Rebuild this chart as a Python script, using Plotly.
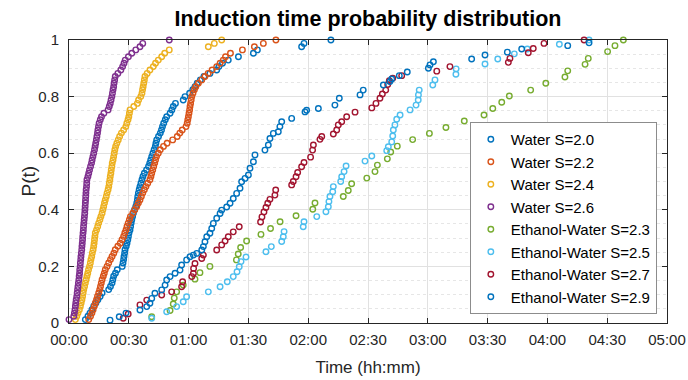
import plotly.graph_objects as go

# ---------------- data (time in minutes, probability P(t)) ----------------
P_WATER = [0.012, 0.024, 0.035, 0.047, 0.059, 0.071, 0.082, 0.094, 0.106, 0.118,
           0.129, 0.141, 0.153, 0.165, 0.176, 0.188, 0.200, 0.212, 0.224, 0.235,
           0.247, 0.259, 0.271, 0.282, 0.294, 0.306, 0.318, 0.329, 0.341, 0.353,
           0.365, 0.376, 0.388, 0.400, 0.412, 0.424, 0.435, 0.447, 0.459, 0.471,
           0.482, 0.494, 0.506, 0.518, 0.529, 0.541, 0.553, 0.565, 0.576, 0.588,
           0.600, 0.612, 0.624, 0.635, 0.647, 0.659, 0.671, 0.682, 0.694, 0.706,
           0.718, 0.729, 0.741, 0.753, 0.765, 0.776, 0.788, 0.800, 0.812, 0.824,
           0.835, 0.847, 0.859, 0.871, 0.882, 0.894, 0.906, 0.918, 0.929, 0.941,
           0.953, 0.965, 0.976, 0.988, 1.000]

T_W20 = [8.2, 9.5, 10.5, 11.5, 12.4, 13.5, 14.5, 15.6, 16.6, 19.9,
         20.8, 21.6, 22.0, 22.4, 23.3, 24.2, 26.7, 27.1, 27.4, 27.6,
         27.9, 28.1, 28.7, 29.1, 29.5, 29.8, 30.1, 30.6, 30.9, 31.2,
         31.5, 31.9, 32.3, 32.9, 33.5, 34.0, 34.3, 34.5, 34.8, 35.2,
         35.6, 36.1, 36.6, 37.1, 37.8, 38.9, 39.9, 40.5, 41.0, 41.5,
         42.1, 42.7, 43.3, 43.6, 44.0, 44.9, 45.8, 46.4, 46.9, 47.5,
         48.3, 49.0, 50.7, 51.6, 52.3, 53.4, 57.3, 58.2, 60.5, 62.1,
         63.2, 64.3, 65.9, 67.7, 70.7, 74.1, 75.2, 77.0, 79.9, 85.0,
         92.5, 94.5, 116.7, 117.9, 131.4]

T_W22 = [9.9, 10.8, 11.5, 12.1, 12.7, 13.2, 13.8, 14.3, 14.9, 15.4,
         15.8, 16.2, 16.6, 17.2, 17.7, 18.2, 19.1, 19.9, 20.8, 21.6,
         22.5, 23.2, 24.5, 25.7, 26.6, 27.4, 28.0, 28.6, 29.1, 29.7,
         30.3, 30.8, 32.0, 33.0, 34.0, 34.8, 35.6, 36.3, 37.0, 37.8,
         38.6, 39.5, 40.6, 41.1, 41.5, 42.0, 42.5, 43.0, 43.4, 43.9,
         44.8, 45.8, 47.4, 49.2, 52.0, 54.3, 55.6, 56.8, 58.7, 59.3,
         59.6, 59.9, 60.2, 60.5, 60.7, 61.0, 61.3, 61.6, 62.2, 62.9,
         63.6, 64.9, 66.6, 68.2, 69.8, 71.8, 74.1, 75.8, 77.4, 78.5,
         81.0, 87.0, 93.0, 97.5, 103.8]

T_W24 = [3.2, 3.9, 4.5, 5.2, 5.7, 6.1, 6.5, 6.8, 7.1, 7.4,
         7.8, 8.2, 8.6, 9.0, 9.4, 9.8, 10.3, 10.7, 11.0, 11.4,
         11.7, 12.1, 12.4, 12.6, 12.8, 13.0, 13.2, 13.8, 14.4, 14.9,
         15.5, 16.0, 16.6, 17.0, 17.4, 17.8, 18.2, 18.7, 19.1, 19.6,
         19.95, 20.2, 20.5, 20.7, 21.0, 21.2, 21.5, 21.7, 22.1, 22.4,
         22.7, 23.0, 23.4, 24.0, 24.7, 25.4, 26.3, 27.4, 28.5, 29.0,
         29.6, 30.0, 30.3, 30.6, 32.5, 34.3, 34.9, 36.0, 36.6, 36.9,
         37.2, 37.5, 37.8, 38.1, 39.2, 40.6, 42.3, 43.4, 44.8, 46.5,
         48.0, 50.3, 69.9, 72.9, 76.6]

T_W26 = [0.0, 2.4, 2.7, 3.0, 3.2, 3.4, 3.6, 3.9, 4.1, 4.3,
         4.5, 4.7, 4.95, 5.1, 5.3, 5.4, 5.6, 5.7, 5.9, 6.0,
         6.2, 6.4, 6.5, 6.65, 6.8, 6.9, 7.05, 7.2, 7.3, 7.45,
         7.6, 7.75, 7.9, 8.0, 8.1, 8.2, 8.3, 8.4, 8.5, 8.6,
         8.8, 8.9, 9.0, 9.5, 9.9, 10.3, 10.8, 11.3, 11.6, 12.0,
         12.4, 12.8, 13.1, 13.4, 13.7, 14.0, 14.3, 14.5, 14.8, 15.1,
         15.7, 16.3, 17.5, 19.6, 20.2, 20.7, 21.1, 21.5, 21.8, 22.1,
         22.4, 22.6, 22.9, 23.2, 24.5, 26.0, 26.9, 27.6, 28.2, 29.8,
         31.5, 33.5, 35.6, 37.0, 50.3]

T_EW23 = [41.5, 50.7, 52.3, 52.8, 54.0, 57.3, 63.2, 65.7, 70.7, 84.0,
          84.9, 86.1, 89.1, 96.3, 101.1, 105.9, 113.9, 122.3, 123.4, 137.6,
          140.1, 141.8, 149.4, 153.5, 154.7, 159.7, 161.4, 164.7, 172.4, 180.8,
          189.1, 198.3, 208.2, 212.6, 217.1, 220.9, 231.6, 239.2, 248.8, 250.2,
          258.9, 260.5, 270.2, 273.9, 278.1]
P_EW23 = [0.022, 0.044, 0.067, 0.088, 0.110, 0.134, 0.155, 0.178, 0.200, 0.223,
          0.244, 0.267, 0.290, 0.313, 0.334, 0.358, 0.379, 0.402, 0.424, 0.447,
          0.468, 0.492, 0.512, 0.535, 0.558, 0.580, 0.604, 0.625, 0.648, 0.670,
          0.691, 0.714, 0.735, 0.758, 0.780, 0.802, 0.823, 0.847, 0.869, 0.891,
          0.914, 0.935, 0.959, 0.980, 1.000]

T_EW25 = [41.5, 49.0, 54.0, 57.3, 59.0, 69.9, 75.8, 79.4, 82.4, 84.3,
          85.4, 86.3, 88.8, 98.8, 101.5, 106.7, 107.5, 107.9, 117.5, 117.9,
          124.3, 128.9, 130.1, 130.4, 130.9, 132.3, 132.6, 136.3, 136.8, 138.0,
          139.0, 148.5, 151.9, 159.4, 160.2, 161.9, 162.4, 162.7, 163.5, 164.4,
          166.1, 171.1, 174.1, 175.2, 175.3, 175.7, 182.5, 183.6, 194.1, 194.2,
          208.7, 215.1, 223.4, 229.9, 246.0, 260.9]
P_EW25 = [0.017, 0.040, 0.058, 0.075, 0.093, 0.110, 0.128, 0.146, 0.164, 0.181,
          0.199, 0.217, 0.233, 0.252, 0.270, 0.288, 0.305, 0.323, 0.340, 0.358,
          0.376, 0.393, 0.411, 0.429, 0.447, 0.464, 0.482, 0.500, 0.517, 0.535,
          0.555, 0.572, 0.590, 0.609, 0.623, 0.640, 0.661, 0.682, 0.700, 0.720,
          0.735, 0.753, 0.770, 0.788, 0.806, 0.823, 0.841, 0.859, 0.879, 0.898,
          0.915, 0.933, 0.951, 0.968, 0.985, 1.000]

T_EW27 = [27.2, 29.7, 35.6, 39.0, 46.5, 51.5, 56.5, 57.0, 61.6, 62.4,
          62.5, 63.2, 66.6, 67.4, 74.1, 76.6, 78.3, 79.9, 82.4, 85.4,
          96.1, 96.8, 97.8, 98.8, 99.7, 100.8, 103.3, 103.7, 111.7, 112.5,
          113.9, 114.7, 116.7, 117.9, 121.2, 122.2, 122.6, 125.9, 126.8, 132.6,
          134.3, 135.1, 136.8, 139.3, 143.5, 151.9, 154.0, 156.0, 157.2, 158.9,
          159.9, 160.7, 162.4, 166.9, 184.5, 191.1, 220.4, 221.2, 230.4, 232.9,
          238.3, 258.4]
P_EW27 = [0.017, 0.032, 0.064, 0.081, 0.099, 0.110, 0.128, 0.146, 0.164, 0.175,
          0.193, 0.210, 0.228, 0.240, 0.258, 0.276, 0.290, 0.305, 0.322, 0.340,
          0.357, 0.375, 0.392, 0.408, 0.423, 0.437, 0.452, 0.470, 0.488, 0.500,
          0.517, 0.532, 0.552, 0.567, 0.586, 0.611, 0.629, 0.649, 0.659, 0.668,
          0.682, 0.700, 0.711, 0.729, 0.745, 0.760, 0.776, 0.794, 0.809, 0.823,
          0.843, 0.856, 0.865, 0.874, 0.890, 0.906, 0.921, 0.935, 0.955, 0.970,
          0.988, 1.000]

T_EW29 = [20.6, 25.2, 28.6, 35.6, 39.0, 40.6, 41.5, 43.1, 46.5, 48.2,
          49.0, 50.7, 53.2, 55.7, 56.5, 59.0, 60.7, 62.4, 64.1, 66.6,
          67.4, 68.2, 69.1, 70.7, 71.6, 72.4, 74.1, 75.8, 76.6, 79.1,
          80.8, 82.4, 84.1, 85.8, 86.6, 88.3, 90.0, 90.8, 92.5, 93.3,
          98.3, 100.0, 100.8, 102.5, 105.0, 105.8, 106.7, 111.7, 118.4, 119.2,
          125.1, 133.4, 135.6, 146.0, 147.6, 157.7, 161.0, 161.9, 165.7, 169.7,
          180.3, 181.1, 182.8, 202.0, 208.7, 219.9, 227.1, 250.2, 260.9]
P_EW29 = [0.010, 0.022, 0.035, 0.046, 0.058, 0.070, 0.087, 0.105, 0.117, 0.134,
          0.152, 0.164, 0.176, 0.187, 0.205, 0.223, 0.234, 0.240, 0.246, 0.258,
          0.270, 0.287, 0.305, 0.317, 0.334, 0.352, 0.370, 0.387, 0.399, 0.410,
          0.423, 0.440, 0.458, 0.476, 0.499, 0.511, 0.523, 0.547, 0.570, 0.594,
          0.611, 0.629, 0.652, 0.670, 0.676, 0.694, 0.711, 0.723, 0.746, 0.752,
          0.758, 0.770, 0.794, 0.806, 0.823, 0.841, 0.853, 0.862, 0.874, 0.887,
          0.900, 0.912, 0.923, 0.933, 0.947, 0.957, 0.968, 0.980, 0.990]

SERIES_NAMES = ["Water S=2.0", "Water S=2.2", "Water S=2.4", "Water S=2.6",
                "Ethanol-Water S=2.3", "Ethanol-Water S=2.5",
                "Ethanol-Water S=2.7", "Ethanol-Water S=2.9"]
SERIES_T = [T_W20, T_W22, T_W24, T_W26, T_EW23, T_EW25, T_EW27, T_EW29]
SERIES_P = [P_WATER, P_WATER, P_WATER, P_WATER, P_EW23, P_EW25, P_EW27, P_EW29]
COLORS = ["#0072BD", "#D95319", "#EDB120", "#7E2F8E",
          "#77AC30", "#4DBEEE", "#A2142F", "#0072BD"]

X_TICKS = [0, 30, 60, 90, 120, 150, 180, 210, 240, 270, 300]
X_TICKTEXT = ["00:00", "00:30", "01:00", "01:30", "02:00", "02:30",
              "03:00", "03:30", "04:00", "04:30", "05:00"]
Y_TICKS = [0, 0.2, 0.4, 0.6, 0.8, 1.0]
Y_TICKTEXT = ["0", "0.2", "0.4", "0.6", "0.8", "1"]

# ---------------- figure ----------------
FONT = "Liberation Sans, Arial, Helvetica, sans-serif"
AX = "#262626"
W, H = 688, 380
ML, MR, MT, MB = 69, 21, 40, 57

fig = go.Figure()
for name, t, p, c in zip(SERIES_NAMES, SERIES_T, SERIES_P, COLORS):
    fig.add_trace(go.Scatter(
        x=t, y=p, name=name, mode="markers", cliponaxis=False,
        marker=dict(symbol="circle-open", size=5.5, color=c,
                    line=dict(width=1.4, color=c)),
    ))

fig.update_layout(
    width=W, height=H,
    margin=dict(l=ML, r=MR, t=MT, b=MB, autoexpand=False),
    plot_bgcolor="white", paper_bgcolor="white",
    font=dict(family=FONT, color=AX, size=15),
    title=dict(text="<b>Induction time probability distribution</b>",
               x=0.5, xref="paper", xanchor="center",
               y=1 - 18 / H, yref="container", yanchor="middle",
               automargin=False,
               font=dict(size=21.5, color="#000000")),
    showlegend=True,
    legend=dict(x=0.983, xanchor="right", y=0.032, yanchor="bottom",
                bgcolor="white", bordercolor="#8c8c8c", borderwidth=1,
                font=dict(size=15, color="#000000"), tracegroupgap=0),
    xaxis=dict(range=[0, 300], tickvals=X_TICKS, ticktext=X_TICKTEXT,
               ticks="inside", ticklen=5, tickcolor=AX, tickwidth=1,
               showline=True, linecolor=AX, linewidth=1, mirror="ticks",
               showgrid=True, gridcolor="#e1e1e1", gridwidth=1, zeroline=False,
               automargin=False, ticklabelstandoff=3,
               tickfont=dict(size=15, color=AX),
               title=dict(text="Time (hh:mm)", font=dict(size=17, color=AX),
                          standoff=14)),
    yaxis=dict(range=[0, 1], tickvals=Y_TICKS, ticktext=Y_TICKTEXT,
               ticks="inside", ticklen=5, tickcolor=AX, tickwidth=1,
               showline=True, linecolor=AX, linewidth=1, mirror="ticks",
               showgrid=True, gridcolor="#e1e1e1", gridwidth=1, zeroline=False,
               automargin=False, ticklabelstandoff=6,
               tickfont=dict(size=15, color=AX),
               minor=dict(dtick=0.05, tick0=0, showgrid=True,
                          gridcolor="#e6e6e6", griddash="dot", ticks="")),
    annotations=[dict(text="P(t)", textangle=-90, showarrow=False,
                      xref="paper", yref="paper",
                      x=(28 - ML) / (W - ML - MR), y=0.5,
                      xanchor="center", yanchor="middle",
                      font=dict(size=19, color=AX))],
)

# remove the page's default body margin so the 688x380 figure fills the window
fig.write_html("out.html", config={"displayModeBar": False},
               post_script="document.body.style.margin='0';")
